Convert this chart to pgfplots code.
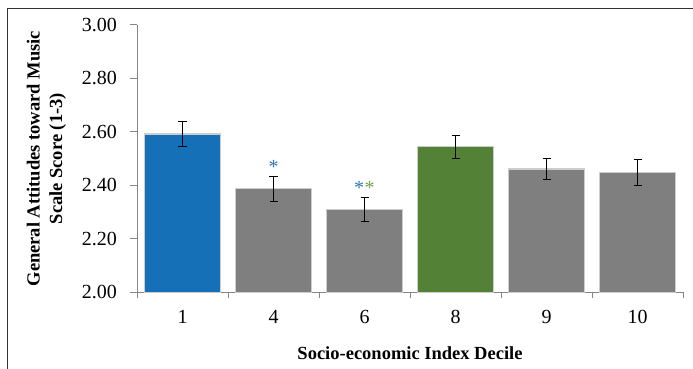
\documentclass[border=0pt]{standalone}
\usepackage{pgfplots}
\pgfplotsset{compat=1.18}
\usepackage{fontspec}
\setmainfont{Liberation Serif}

\definecolor{barblue}{RGB}{21,112,184}
\definecolor{bargreen}{RGB}{83,129,53}
\definecolor{bargray}{RGB}{127,127,127}
\definecolor{baredge}{RGB}{205,205,205}
\definecolor{axisgray}{RGB}{134,134,134}
\definecolor{starblue}{RGB}{46,117,182}
\definecolor{stargreen}{RGB}{112,160,80}

% mean score and half-width of the error bar for each decile (x = 0..5)
\pgfplotstableread{
x  y      e
0  2.592  0.047
}\decileblue
\pgfplotstableread{
x  y      e
1  2.388  0.047
2  2.310  0.046
4  2.461  0.040
5  2.449  0.048
}\decilegray
\pgfplotstableread{
x  y      e
3  2.544  0.043
}\decilegreen

\pgfplotsset{
  scorebar/.style={
    ybar, bar width=76bp, draw=baredge, line width=1.2bp,
    error bars/y dir=both, error bars/y explicit,
    error bars/error bar style={black, line width=1bp},
    error bars/error mark options={rotate=90, black, mark size=4bp, line width=1bp},
  },
}

\begin{document}
\begin{tikzpicture}
\useasboundingbox (0,0) rectangle (693bp,369bp);
% outer frame
\draw[line width=1.3bp, black!80] (7.5bp,-5bp) |- (710bp,360.8bp);

\begin{axis}[
  at={(137bp,76.7bp)}, anchor=south west,
  scale only axis, width=546bp, height=267.3bp,
  xmin=-0.5, xmax=5.5, ymin=2, ymax=3,
  axis x line*=bottom, axis y line*=left,
  axis line style={axisgray, line width=1bp},
  every tick/.style={axisgray, line width=1bp},
  tick align=outside,
  xtick={0,...,5}, xticklabels={1,4,6,8,9,10},
  major x tick style={draw=none},
  minor xtick={-0.5,0.5,...,5.5},
  major tick length=7bp, minor tick length=6bp,
  ytick={2,2.2,2.4,2.6,2.8,3},
  /pgf/number format/assume math mode=true,
  tick label style={font=\fontsize{20bp}{24bp}\selectfont, black, inner sep=0pt},
  yticklabel style={anchor=east, xshift=-13bp,
    /pgf/number format/fixed, /pgf/number format/fixed zerofill,
    /pgf/number format/precision=2},
  xticklabel style={anchor=north, yshift=-10.7bp},
  label style={font=\bfseries\fontsize{18.5bp}{22.5bp}\selectfont},
  xlabel={Socio-economic Index Decile},
  ylabel={General Attitudes toward Music\\Scale Score (1-3)},
  xlabel style={at={(axis description cs:0.5,-0.2271)}, anchor=center},
  ylabel style={at={(axis description cs:-0.1657,0.5)}, anchor=center, align=center},
]
\addplot[scorebar, fill=barblue]  table[x=x, y=y, y error=e] {\decileblue};
\addplot[scorebar, fill=bargray]  table[x=x, y=y, y error=e] {\decilegray};
\addplot[scorebar, fill=bargreen] table[x=x, y=y, y error=e] {\decilegreen};

% significance markers
\node[text=starblue,  font=\fontsize{20bp}{20bp}\selectfont] at (axis cs:1,2.47) {*};
\node[text=starblue,  font=\fontsize{20bp}{20bp}\selectfont] at ([xshift=-5.5bp]axis cs:2,2.39) {*};
\node[text=stargreen, font=\fontsize{20bp}{20bp}\selectfont] at ([xshift=5bp]axis cs:2,2.39) {*};
\end{axis}
\end{tikzpicture}
\end{document}
